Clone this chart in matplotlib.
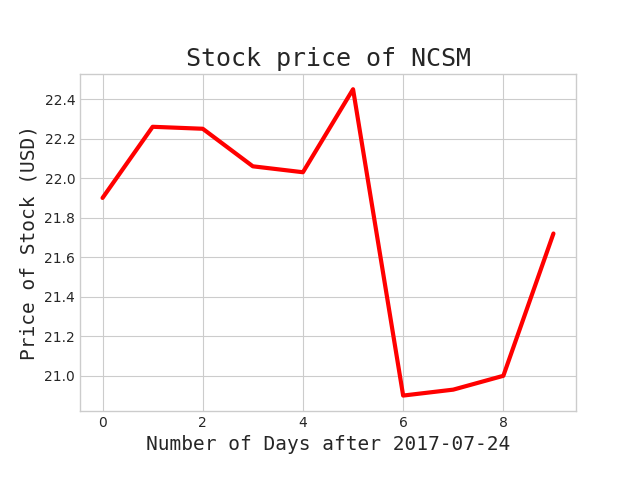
import matplotlib
matplotlib.use("Agg")
import matplotlib.pyplot as plt

# closing prices of NCSM
days = [0, 1, 2, 3, 4, 5, 6, 7, 8, 9]
prices = [21.90, 22.26, 22.25, 22.06, 22.03, 22.45, 20.90, 20.93, 21.00, 21.72]
start_date = "2017-07-24"
symbol = "NCSM"

plt.style.use("seaborn-v0_8-whitegrid")
plt.rcParams["font.family"] = ["DejaVu Sans"]

fig = plt.figure(figsize=(6.4, 4.8), dpi=100)
ax = fig.add_subplot(111)
fig.subplots_adjust(left=0.125, right=0.9, top=0.846, bottom=0.144)

ax.plot(days, prices, color="red", linewidth=3)

ax.set_title("Stock price of %s" % symbol, fontsize=18, family="DejaVu Sans Mono")
ax.set_xlabel("Number of Days after %s" % start_date, fontsize=14, family="DejaVu Sans Mono")
ax.set_ylabel("Price of Stock (USD)", fontsize=14, family="DejaVu Sans Mono")

for s in ax.spines.values():
    s.set_visible(True)
    s.set_color("0.8")

fig.savefig("out.png", dpi=100)
